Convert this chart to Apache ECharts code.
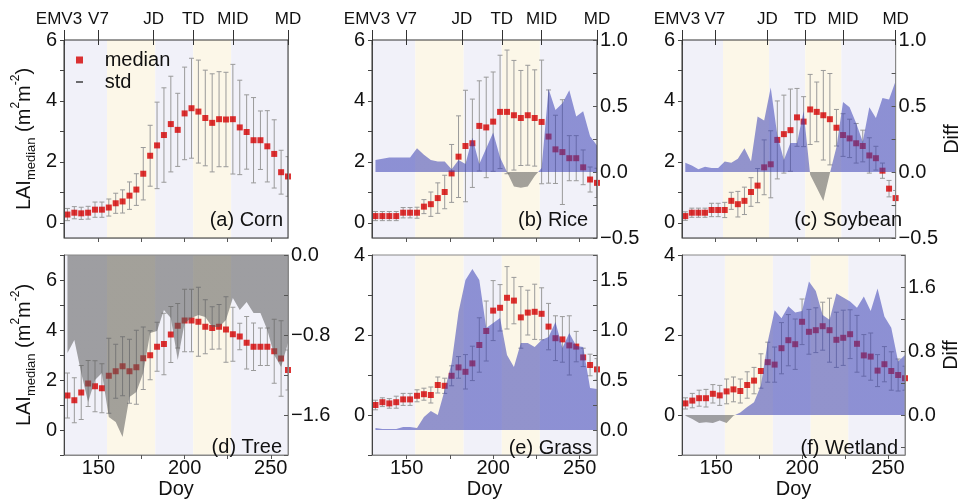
<!DOCTYPE html>
<html>
<head>
<meta charset="utf-8">
<script src="https://cdn.jsdelivr.net/npm/echarts@6/dist/echarts.min.js"></script>
<style>
html, body { margin: 0; padding: 0; background: #fff; }
#chart { width: 963px; height: 504px; }
</style>
</head>
<body>
<div id="chart"></div>
<script>
const FONT = '"Liberation Sans", Arial, sans-serif'

// day of year of every composite
const days = [132, 136, 140, 144, 148, 152, 156, 160, 164, 168, 172, 176, 180, 184, 188, 192, 196,
  200, 204, 208, 212, 216, 220, 224, 228, 232, 236, 240, 244, 248, 252, 256, 260]

const xTicks = [150, 175, 200, 225, 250]
const xLabels = [150, 200, 250]
const stageDays = [130, 150, 182, 205, 228, 260]
const stageNames = ['EMV3', 'V7', 'JD', 'TD', 'MID', 'MD']
// growth stage shading
const bandEdges = [130, 155, 183, 205, 227, 260]
const bandColors = ['#f1f1f9', '#fcf7e8', '#f1f1f9', '#fcf7e8', '#f1f1f9']

const cornMedian = [0.27, 0.33, 0.31, 0.33, 0.43, 0.43, 0.50, 0.64, 0.70, 0.89, 1.09, 1.61, 2.20, 2.54, 2.88, 3.24, 3.05,
  3.59, 3.76, 3.65, 3.44, 3.28, 3.40, 3.39, 3.40, 3.13, 2.98, 2.71, 2.71, 2.51, 2.26, 1.66, 1.52]
const cornStd = [0.20, 0.20, 0.20, 0.21, 0.25, 0.25, 0.28, 0.33, 0.38, 0.45, 0.52, 0.86, 1.00, 1.42, 1.55, 1.57, 1.20,
  1.52, 1.64, 1.69, 1.57, 1.61, 1.56, 1.55, 1.80, 1.55, 1.22, 1.40, 0.96, 1.17, 1.12, 0.72, 0.65]

const riceMedian = [0.22, 0.22, 0.22, 0.22, 0.33, 0.33, 0.33, 0.53, 0.61, 0.81, 1.01, 1.62, 2.17, 2.52, 2.61, 3.18, 3.13,
  3.32, 3.64, 3.64, 3.53, 3.44, 3.53, 3.44, 3.31, 2.83, 2.41, 2.32, 2.12, 2.12, 1.82, 1.42, 1.31]
const riceStd = [0.15, 0.15, 0.15, 0.15, 0.17, 0.17, 0.18, 0.23, 0.40, 0.50, 0.55, 0.95, 1.34, 1.83, 1.45, 1.48, 1.65,
  1.63, 1.86, 2.03, 1.80, 1.56, 1.64, 1.58, 2.03, 1.53, 1.12, 1.72, 0.74, 0.74, 0.57, 0.41, 0.48]
const riceDiff = [0.09, 0.10, 0.11, 0.11, 0.11, 0.11, 0.18, 0.13, 0.09, 0.08, 0.08, 0.02, 0.09, 0.06, 0.26, 0.06, 0.18,
  0.30, 0.11, 0.00, -0.11, -0.12, -0.11, -0.03, 0.03, 0.63, 0.47, 0.52, 0.62, 0.42, 0.46, 0.27, 0.20]

const soyMedian = [0.22, 0.33, 0.33, 0.33, 0.42, 0.42, 0.42, 0.72, 0.61, 0.72, 1.01, 1.22, 1.82, 1.92, 2.72, 2.91, 3.04,
  3.46, 3.32, 3.72, 3.64, 3.53, 3.40, 3.12, 2.88, 2.77, 2.61, 2.52, 2.21, 2.12, 1.71, 1.12, 0.81]
const soyStd = [0.14, 0.15, 0.15, 0.15, 0.22, 0.22, 0.25, 0.28, 0.42, 0.45, 0.47, 0.56, 0.90, 1.10, 1.28, 1.28, 1.35,
  0.95, 0.82, 1.15, 0.98, 1.47, 1.50, 0.60, 0.70, 0.63, 0.65, 0.52, 0.58, 0.39, 0.25, 0.27, 0.25]
const soyDiff = [0.07, 0.05, 0.02, 0.04, 0.03, 0.03, 0.08, 0.07, 0.10, 0.18, 0.08, 0.42, 0.39, 0.64, 0.28, 0.09, 0.22,
  0.22, 0.46, -0.02, -0.12, -0.22, -0.01, 0.19, 0.53, 0.49, 0.37, 0.23, 0.49, 0.41, 0.56, 0.55, 0.69]

const treeMedian = [1.38, 1.19, 1.50, 1.86, 1.75, 1.67, 2.17, 2.35, 2.55, 2.35, 2.51, 2.87, 2.99, 3.33, 3.44, 3.82, 4.17,
  4.38, 4.38, 4.33, 4.13, 4.08, 4.13, 4.02, 3.83, 3.74, 3.49, 3.33, 3.33, 3.33, 3.15, 2.86, 2.40]
const treeStd = [0.90, 0.90, 1.08, 0.92, 1.02, 0.98, 1.50, 1.08, 1.18, 1.28, 1.48, 1.25, 0.98, 0.98, 1.23, 1.12, 0.89,
  1.25, 1.25, 1.38, 1.08, 0.85, 0.89, 1.31, 1.08, 0.53, 1.05, 0.95, 0.75, 0.75, 1.28, 1.51, 0.80]
const treeDiff = [-0.98, -0.85, -1.18, -1.47, -1.25, -1.18, -1.62, -1.67, -1.82, -1.42, -1.37, -1.18, -0.78, -0.76, -0.55,
  -0.63, -1.05, -0.68, -0.63, -0.60, -0.62, -0.72, -0.72, -0.65, -0.43, -0.55, -0.47, -0.58, -0.58, -0.75, -1.00, -1.12, -0.88]

const grassMedian = [0.25, 0.32, 0.29, 0.32, 0.39, 0.39, 0.48, 0.52, 0.50, 0.75, 0.73, 0.98, 1.19, 1.08, 1.29, 1.75, 2.10,
  2.61, 2.68, 2.93, 2.86, 2.44, 2.56, 2.58, 2.53, 2.21, 1.92, 1.89, 1.74, 1.71, 1.44, 1.25, 1.14]
const grassStd = [0.12, 0.11, 0.12, 0.15, 0.15, 0.15, 0.15, 0.15, 0.20, 0.20, 0.19, 0.25, 0.27, 0.43, 0.43, 0.68, 0.75,
  0.75, 0.58, 0.78, 0.58, 0.77, 0.56, 0.69, 0.65, 0.58, 0.56, 0.57, 0.74, 0.38, 0.23, 0.27, 0.27]
const grassDiff = [0.02, 0.01, 0.01, 0.01, 0.03, 0.03, 0.02, 0.13, 0.19, 0.15, 0.40, 0.67, 1.18, 1.50, 1.61, 1.50, 1.02,
  1.07, 1.12, 0.75, 0.63, 0.87, 0.87, 0.83, 0.90, 0.93, 1.08, 0.82, 0.97, 0.84, 0.83, 0.42, 0.41]

const wetMedian = [0.29, 0.36, 0.42, 0.42, 0.53, 0.49, 0.59, 0.64, 0.60, 0.75, 0.86, 1.10, 1.32, 1.26, 1.67, 1.87, 1.77,
  2.33, 2.08, 2.12, 2.22, 2.12, 1.88, 1.93, 2.02, 1.78, 1.49, 1.46, 1.11, 1.27, 1.10, 1.00, 0.92]
const wetStd = [0.14, 0.18, 0.20, 0.22, 0.23, 0.25, 0.31, 0.31, 0.30, 0.33, 0.33, 0.43, 0.50, 0.44, 0.64, 0.64, 0.63,
  0.57, 0.56, 0.56, 0.60, 0.80, 0.69, 0.69, 0.61, 0.71, 0.52, 0.59, 0.40, 0.44, 0.48, 0.40, 0.30]
const wetDiff = [-0.01, -0.05, -0.10, -0.09, -0.10, -0.07, -0.10, -0.01, 0.03, 0.10, 0.16, 0.37, 0.92, 1.31, 1.21, 1.36, 1.28,
  1.30, 1.67, 1.55, 1.25, 1.19, 1.52, 1.47, 1.42, 1.34, 1.48, 1.30, 1.58, 1.23, 1.09, 0.67, 0.75]

const panels = [
  { label: '(a) Corn', median: cornMedian, std: cornStd, diff: null, row: 0, lai: true,
    box: { left: 64, top: 40, width: 224, height: 198 }, labelAt: [283, 220],
    yl: { min: -0.5, max: 6, ticks: [0, 1, 2, 3, 4, 5, 6], labels: [0, 2, 4, 6] } },
  { label: '(b) Rice', median: riceMedian, std: riceStd, diff: riceDiff, row: 0,
    box: { left: 372, top: 40, width: 225, height: 198 }, labelAt: [588, 220],
    yl: { min: -0.5, max: 6, ticks: [0, 1, 2, 3, 4, 5, 6], labels: [0, 2, 4, 6] },
    yr: { min: -0.5, max: 1.0, ticks: [-0.5, -0.25, 0, 0.25, 0.5, 0.75, 1.0], labels: [-0.5, 0, 0.5, 1.0] } },
  { label: '(c) Soybean', median: soyMedian, std: soyStd, diff: soyDiff, row: 0, diffTitle: true,
    box: { left: 682, top: 40, width: 223, height: 198 }, labelAt: [902, 220],
    yl: { min: -0.5, max: 6, ticks: [0, 1, 2, 3, 4, 5, 6], labels: [0, 2, 4, 6] },
    yr: { min: -0.5, max: 1.0, ticks: [-0.5, -0.25, 0, 0.25, 0.5, 0.75, 1.0], labels: [-0.5, 0, 0.5, 1.0] } },
  { label: '(d) Tree', median: treeMedian, std: treeStd, diff: treeDiff, row: 1, lai: true,
    box: { left: 64, top: 255, width: 224, height: 200 }, labelAt: [282, 447],
    yl: { min: -1, max: 7, ticks: [-1, 0, 1, 2, 3, 4, 5, 6, 7], labels: [0, 2, 4, 6] },
    yr: { min: -2, max: 0, ticks: [-2, -1.6, -1.2, -0.8, -0.4, 0], labels: [-1.6, -0.8, 0] } },
  { label: '(e) Grass', median: grassMedian, std: grassStd, diff: grassDiff, row: 1,
    box: { left: 372, top: 255, width: 225, height: 200 }, labelAt: [592, 448],
    yl: { min: -1, max: 4, ticks: [-1, 0, 1, 2, 3, 4], labels: [0, 2, 4] },
    yr: { min: -0.25, max: 1.75, ticks: [0, 0.25, 0.5, 0.75, 1.0, 1.25, 1.5, 1.75], labels: [0, 0.5, 1.0, 1.5] } },
  { label: '(f) Wetland', median: wetMedian, std: wetStd, diff: wetDiff, row: 1, diffTitle: true,
    box: { left: 682, top: 255, width: 223, height: 200 }, labelAt: [898, 448],
    yl: { min: -1, max: 4, ticks: [-1, 0, 1, 2, 3, 4], labels: [0, 2, 4] },
    yr: { min: -0.5, max: 2.0, ticks: [-0.4, 0, 0.4, 0.8, 1.2, 1.6, 2.0], labels: [0, 0.8, 1.6] } },
]

const fmtDiff = (v) => (v < 0 ? '\u2212' : '') + Math.abs(v).toFixed(1)

// 误差棒：中位数 ± 标准差
const renderErrorBar = (params, api) => {
  const x = api.value(0)
  const m = api.value(1)
  const s = api.value(2)
  const hi = api.coord([x, m + s])
  const lo = api.coord([x, m - s])
  const cap = 2.5
  const style = { stroke: '#9a9a9a', lineWidth: 1 }
  return {
    type: 'group',
    children: [
      { type: 'line', shape: { x1: hi[0], y1: hi[1], x2: lo[0], y2: lo[1] }, style },
      { type: 'line', shape: { x1: hi[0] - cap, y1: hi[1], x2: hi[0] + cap, y2: hi[1] }, style },
      { type: 'line', shape: { x1: lo[0] - cap, y1: lo[1], x2: lo[0] + cap, y2: lo[1] }, style },
    ],
  }
}

const option = {
  animation: false,
  textStyle: { fontFamily: FONT },
  grid: [],
  xAxis: [],
  yAxis: [],
  series: [],
  graphic: [],
}
const diffSeries = []

panels.forEach((p, i) => {
  option.grid.push({
    ...p.box, show: true, z: 5, borderWidth: 1,
    borderColor: p.row === 0 ? '#333' : '#888', backgroundColor: 'transparent',
  })

  const xb = option.xAxis.length
  option.xAxis.push({
    gridIndex: i, type: 'value', min: 130, max: 260, position: 'bottom', z: 10,
    axisLine: { show: true, onZero: false, lineStyle: { color: '#888' } },
    axisTick: { show: true, customValues: xTicks, length: 4, lineStyle: { color: '#555' } },
    axisLabel: {
      show: p.row === 1, customValues: xLabels, fontSize: 20, color: '#111', margin: 3, fontFamily: FONT,
    },
    splitLine: { show: false },
    name: p.row === 1 ? 'Doy' : '', nameLocation: 'middle', nameGap: 24,
    nameTextStyle: { fontSize: 20, color: '#111', fontFamily: FONT },
  })
  if (p.row === 0) {
    // stage axis: ticks cross the frame, so shift the axis 5px inward
    option.xAxis.push({
      gridIndex: i, type: 'value', min: 130, max: 260, position: 'top', offset: -5, z: 10,
      axisLine: { show: false, onZero: false },
      axisTick: { show: true, customValues: stageDays, length: 15, lineStyle: { color: '#333' } },
      axisLabel: {
        customValues: stageDays, showMinLabel: true, showMaxLabel: true, hideOverlap: false,
        formatter: (v) => {
          const n = stageNames[stageDays.indexOf(v)]
          return v === stageDays[0] ? '{first|' + n + '}' : n
        },
        rich: { first: { fontSize: 17, color: '#111', fontFamily: FONT, padding: [0, 10, 0, 0] } },
        fontSize: 17, color: '#111', margin: 17, fontFamily: FONT,
      },
      splitLine: { show: false },
    })
  }

  const yl = option.yAxis.length
  option.yAxis.push({
    gridIndex: i, type: 'value', min: p.yl.min, max: p.yl.max, position: 'left', z: 10,
    axisLine: { show: true, onZero: false, lineStyle: { color: '#444' } },
    axisTick: { show: true, customValues: p.yl.ticks, length: 4, lineStyle: { color: '#444' } },
    axisLabel: { customValues: p.yl.labels, fontSize: 20, color: '#111', margin: 7, fontFamily: FONT },
    splitLine: { show: false },
    name: p.lai ? '{a|LAI}{b|median}{a| (m}{c|2}{a|m}{c|-2}{a|)}' : '',
    nameLocation: 'middle', nameRotate: 90, nameGap: 26,
    nameTextStyle: {
      color: '#111', fontFamily: FONT,
      rich: {
        a: { fontSize: 20, lineHeight: 28, fontFamily: FONT, color: '#111' },
        b: { fontSize: 13, lineHeight: 14, verticalAlign: 'bottom', fontFamily: FONT, color: '#111' },
        c: { fontSize: 12, lineHeight: 14, verticalAlign: 'top', fontFamily: FONT, color: '#111' },
      },
    },
  })

  let yr = null
  if (p.yr) {
    yr = option.yAxis.length
    option.yAxis.push({
      gridIndex: i, type: 'value', min: p.yr.min, max: p.yr.max, position: 'right', z: 10,
      axisLine: { show: true, onZero: false, lineStyle: { color: '#888' } },
      axisTick: { show: true, inside: true, customValues: p.yr.ticks, length: 4, lineStyle: { color: '#555' } },
      axisLabel: {
        customValues: p.yr.labels, formatter: fmtDiff, fontSize: 20, color: '#111', margin: 3, fontFamily: FONT,
      },
      splitLine: { show: false },
      name: p.diffTitle ? 'Diff' : '', nameLocation: 'middle', nameRotate: 90, nameGap: 36,
      nameTextStyle: { fontSize: 20, color: '#111', fontFamily: FONT },
    })
  } else {
    // plain right frame line
    option.yAxis.push({
      gridIndex: i, type: 'value', min: p.yl.min, max: p.yl.max, position: 'right', z: 10,
      axisLine: { show: true, onZero: false, lineStyle: { color: '#888' } },
      axisTick: { show: false }, axisLabel: { show: false }, splitLine: { show: false },
    })
  }

  // stage shading lives on its own bottom-most series
  option.series.push({
    name: 'stage', type: 'line', xAxisIndex: xb, yAxisIndex: yl, z: 1, data: [],
    markArea: {
      silent: true, z: 1, label: { show: false }, emphasis: { disabled: true },
      data: bandColors.map((c, k) => [
        { xAxis: bandEdges[k], itemStyle: { color: c, opacity: 1, borderWidth: 0 } },
        { xAxis: bandEdges[k + 1] },
      ]),
    },
  })

  option.series.push({
    name: 'std', type: 'custom', xAxisIndex: xb, yAxisIndex: yl, z: 2, clip: true,
    itemStyle: { color: '#000' },
    renderItem: renderErrorBar,
    encode: { x: 0, y: 1 },
    data: days.map((d, j) => [d, p.median[j], p.std[j]]),
  })

  option.series.push({
    name: 'median', type: 'scatter', xAxisIndex: xb, yAxisIndex: yl, z: 3,
    symbol: 'rect', symbolSize: 6, itemStyle: { color: '#d40000' },
    data: days.map((d, j) => [d, p.median[j]]),
  })

  if (p.diff) {
    diffSeries.push(option.series.length)
    option.series.push({
      name: 'diff', type: 'line', xAxisIndex: xb, yAxisIndex: yr, z: 4,
      symbol: 'none', showSymbol: false,
      lineStyle: { width: 0, opacity: 0 },
      areaStyle: { opacity: 0.55 },
      data: days.map((d, j) => [d, p.diff[j]]),
    })
  }

  option.graphic.push({
    type: 'text', x: p.labelAt[0], y: p.labelAt[1], z: 20,
    style: {
      text: p.label, font: '20px ' + FONT, fill: '#111',
      align: 'right', verticalAlign: 'middle', textAlign: 'right', textVerticalAlign: 'middle',
    },
  })
})

option.visualMap = [{
  type: 'piecewise', show: false, dimension: 1, seriesIndex: diffSeries,
  pieces: [{ gte: -5, lt: 0, color: '#5a5a5a' }, { gte: 0, lte: 5, color: '#3b41b5' }],
}]

// legend text sits well right of its marker, so pad with spaces
option.legend = {
  left: 71, top: 45, orient: 'vertical', itemWidth: 7, itemHeight: 7, itemGap: 2,
  selectedMode: false,
  formatter: (name) => '   ' + name,
  textStyle: { fontSize: 20, color: '#111', fontFamily: FONT },
  data: [
    { name: 'median', icon: 'rect' },
    { name: 'std', icon: 'path://M0,0H10V1.6H0Z', itemStyle: { color: '#000' } },
  ],
}

const chart = echarts.init(document.getElementById('chart'))
chart.setOption(option)
</script>
</body>
</html>
